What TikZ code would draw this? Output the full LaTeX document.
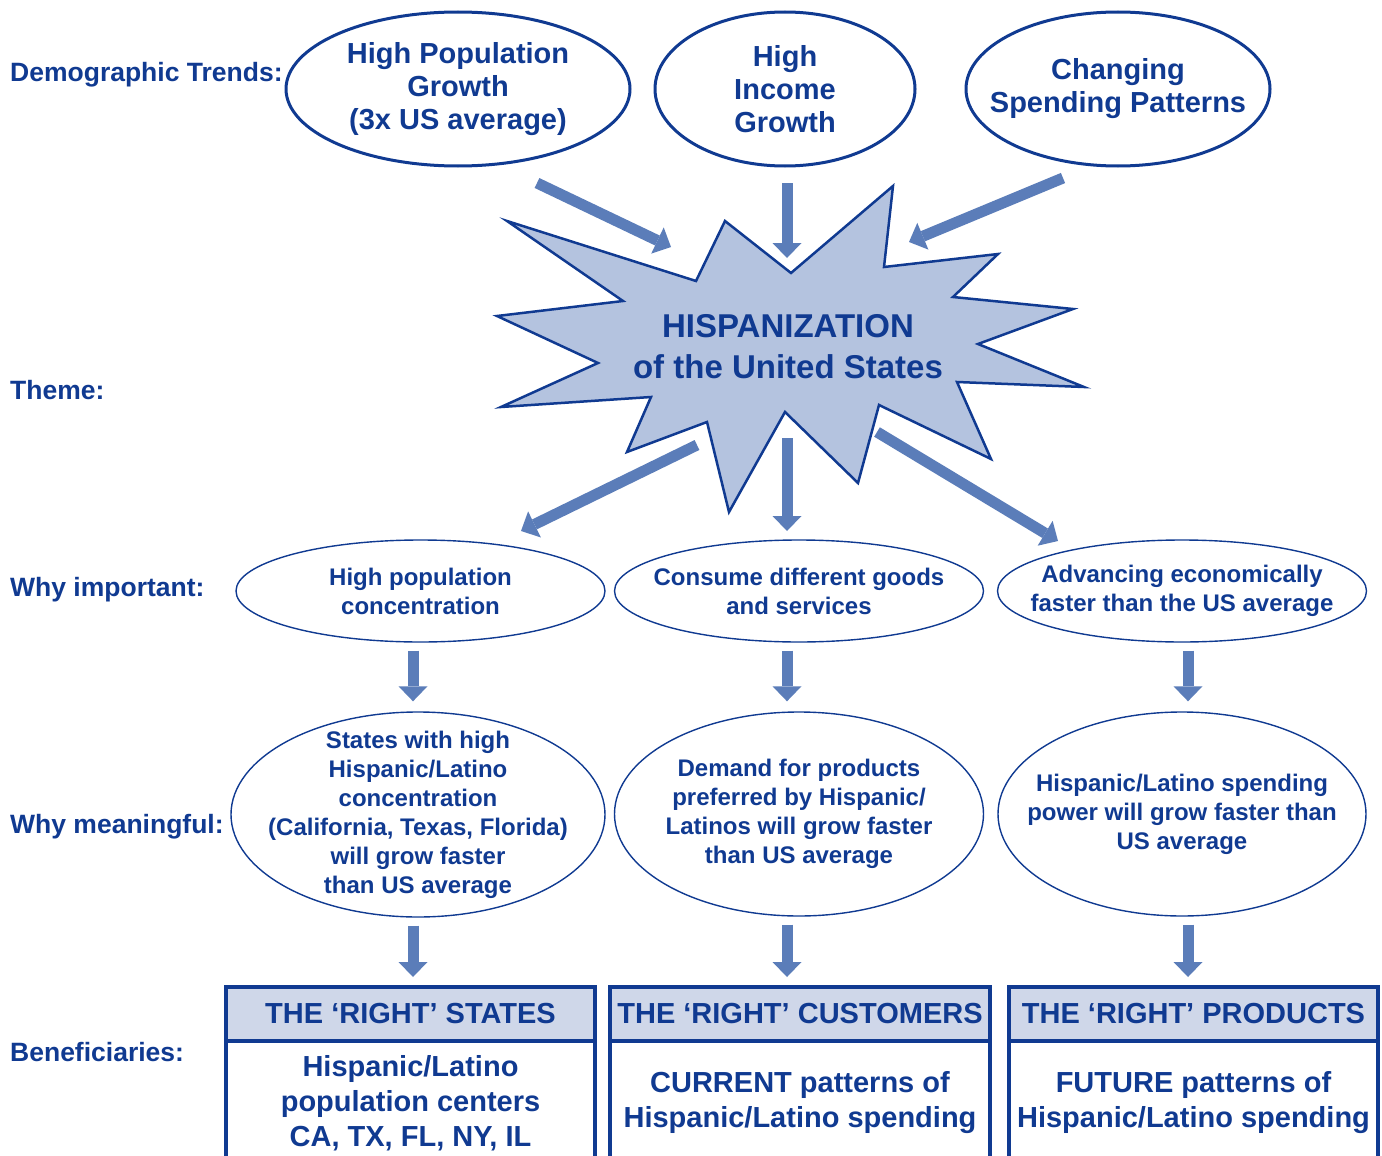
\documentclass[tikz,border=0pt]{standalone}
\usepackage{fontspec}
\setmainfont{Liberation Sans}
\usetikzlibrary{arrows.meta,positioning,shapes.geometric}
\definecolor{navy}{HTML}{103A91}
\definecolor{arrowblue}{HTML}{5B7DB9}
\definecolor{starblue}{HTML}{B4C3DF}
\definecolor{headblue}{HTML}{CFD7E9}
\tikzset{%
  rowlabel/.style={anchor=west,inner sep=0pt,text=navy,font=\fontsize{26.5}{30}\selectfont\bfseries},
  trend/.style={ellipse,draw=navy,line width=3pt,text=navy,align=center,inner sep=-28pt,font=\fontsize{29}{33}\selectfont\bfseries},
  reason/.style={ellipse,draw=navy,line width=1.4pt,text=navy,align=center,inner sep=-28pt,font=\fontsize{24}{29}\selectfont\bfseries},
  burst/.style={draw=navy,line width=2.5pt,fill=starblue},
  header/.style={rectangle,draw=navy,line width=4pt,outer sep=0pt,fill=headblue,text=navy,minimum height=54pt,font=\fontsize{29}{34}\selectfont\bfseries},
  body/.style={rectangle,draw=navy,line width=4pt,outer sep=0pt,text=navy,align=center,minimum height=124pt,font=\fontsize{29}{35}\selectfont\bfseries},
  bigarrow/.style={draw=arrowblue,line width=11pt,-{Triangle[width=29pt,length=15pt,line width=0pt]}},
}

\begin{document}
\begin{tikzpicture}[x=1pt,y=-1pt]
      \useasboundingbox (0,0) rectangle (1382,1156);
      \clip (0,0) rectangle (1382,1156);

      \node[rowlabel] (label_trends) at (10,75) {Demographic Trends:};
      \node[rowlabel] (label_theme) at (10,390) {Theme:};
      \node[rowlabel] (label_important) at (10,590) {Why important:};
      \node[rowlabel] (label_meaningful) at (10,827) {Why meaningful:};
      \node[rowlabel] (label_benef) at (10,1052) {Beneficiaries:};

      \node[trend,minimum width=344pt,minimum height=154pt] (node_pop) at (458,89) {High Population\\Growth\\(3x US average)};
      \node[trend,minimum width=260pt,minimum height=154pt] (node_inc) at (785,89) {High\\Income\\Growth};
      \node[trend,minimum width=304pt,minimum height=154pt] (node_spend) at (1118,89) {Changing\\Spending Patterns};

      \draw[burst] (507,221) -- (696,281) -- (725,221) -- (791,273) -- (893,186) -- (884,267)
        -- (998,254) -- (953,297) -- (1073,309) -- (978,344) -- (1084,387) -- (957,382)
        -- (991,459) -- (879,405) -- (858,483) -- (785,412) -- (729,512) -- (707,422)
        -- (627,452) -- (651,397) -- (501,407) -- (598,363) -- (497,316) -- (623,301) -- cycle;
      \node[text=navy,align=center,font=\fontsize{33}{41}\selectfont\bfseries] (node_hisp) at (788,347) {HISPANIZATION\\of the United States};

      \coordinate (pop_out) at (537,183);
      \coordinate (pop_in) at (671,247);
      \coordinate (inc_out) at (787,183);
      \coordinate (inc_in) at (787,258);
      \coordinate (spend_out) at (1063,178);
      \coordinate (spend_in) at (909,242);
      \coordinate (conc_out) at (697,445);
      \coordinate (conc_in) at (521,531);
      \coordinate (goods_out) at (787,438);
      \coordinate (goods_in) at (787,531);
      \coordinate (adv_out) at (877,432);
      \coordinate (adv_in) at (1058,541);

      \draw[bigarrow] (pop_out) -- (pop_in);
      \draw[bigarrow] (inc_out) -- (inc_in);
      \draw[bigarrow] (spend_out) -- (spend_in);
      \draw[bigarrow] (conc_out) -- (conc_in);
      \draw[bigarrow] (goods_out) -- (goods_in);
      \draw[bigarrow] (adv_out) -- (adv_in);

      \node[reason,minimum width=369pt,minimum height=102pt] (node_conc) at (420.5,591) {High population\\concentration};
      \node[reason,minimum width=369pt,minimum height=102pt] (node_goods) at (799,591) {Consume different goods\\and services};
      \node[reason,minimum width=369pt,minimum height=102pt] (node_adv) at (1182,591) {Advancing economically\\faster than the US average};

      \node[reason,minimum width=374pt,minimum height=205pt] (node_states) at (418,814.5) {States with high\\Hispanic/Latino\\concentration\\(California, Texas, Florida)\\will grow faster\\than US average};
      \node[reason,minimum width=369pt,minimum height=204pt] (node_demand) at (799,814) {Demand for products\\preferred by Hispanic/\\Latinos will grow faster\\than US average};
      \node[reason,minimum width=368pt,minimum height=204pt] (node_power) at (1182,814) {Hispanic/Latino spending\\power will grow faster than\\US average};

      \node[header,minimum width=369pt] (node_head1) at (410.5,1014) {THE ‘RIGHT’ STATES};
      \node[header,minimum width=380pt] (node_head2) at (800,1014) {THE ‘RIGHT’ CUSTOMERS};
      \node[header,minimum width=369pt] (node_head3) at (1193.5,1014) {THE ‘RIGHT’ PRODUCTS};

      \node[body,minimum width=369pt,below=0pt of node_head1] (node_body1) {Hispanic/Latino\\population centers\\CA, TX, FL, NY, IL};
      \node[body,minimum width=380pt,below=0pt of node_head2] (node_body2) {CURRENT patterns of\\Hispanic/Latino spending};
      \node[body,minimum width=369pt,below=0pt of node_head3] (node_body3) {FUTURE patterns of\\Hispanic/Latino spending};

      \coordinate (col_a) at (413,0);
      \coordinate (col_b) at (787,0);
      \coordinate (col_c) at (1188,0);

      \draw[bigarrow,shorten <=8pt,shorten >=10pt] (node_conc.south -| col_a) -- (node_states.north -| col_a);
      \draw[bigarrow,shorten <=8pt,shorten >=10pt] (node_goods.south -| col_b) -- (node_demand.north -| col_b);
      \draw[bigarrow,shorten <=8pt,shorten >=10pt] (node_adv.south -| col_c) -- (node_power.north -| col_c);

      \draw[bigarrow,shorten <=8pt,shorten >=10pt] (node_states.south -| col_a) -- (node_head1.north -| col_a);
      \draw[bigarrow,shorten <=8pt,shorten >=10pt] (node_demand.south -| col_b) -- (node_head2.north -| col_b);
      \draw[bigarrow,shorten <=8pt,shorten >=10pt] (node_power.south -| col_c) -- (node_head3.north -| col_c);
    \end{tikzpicture}
\end{document}
